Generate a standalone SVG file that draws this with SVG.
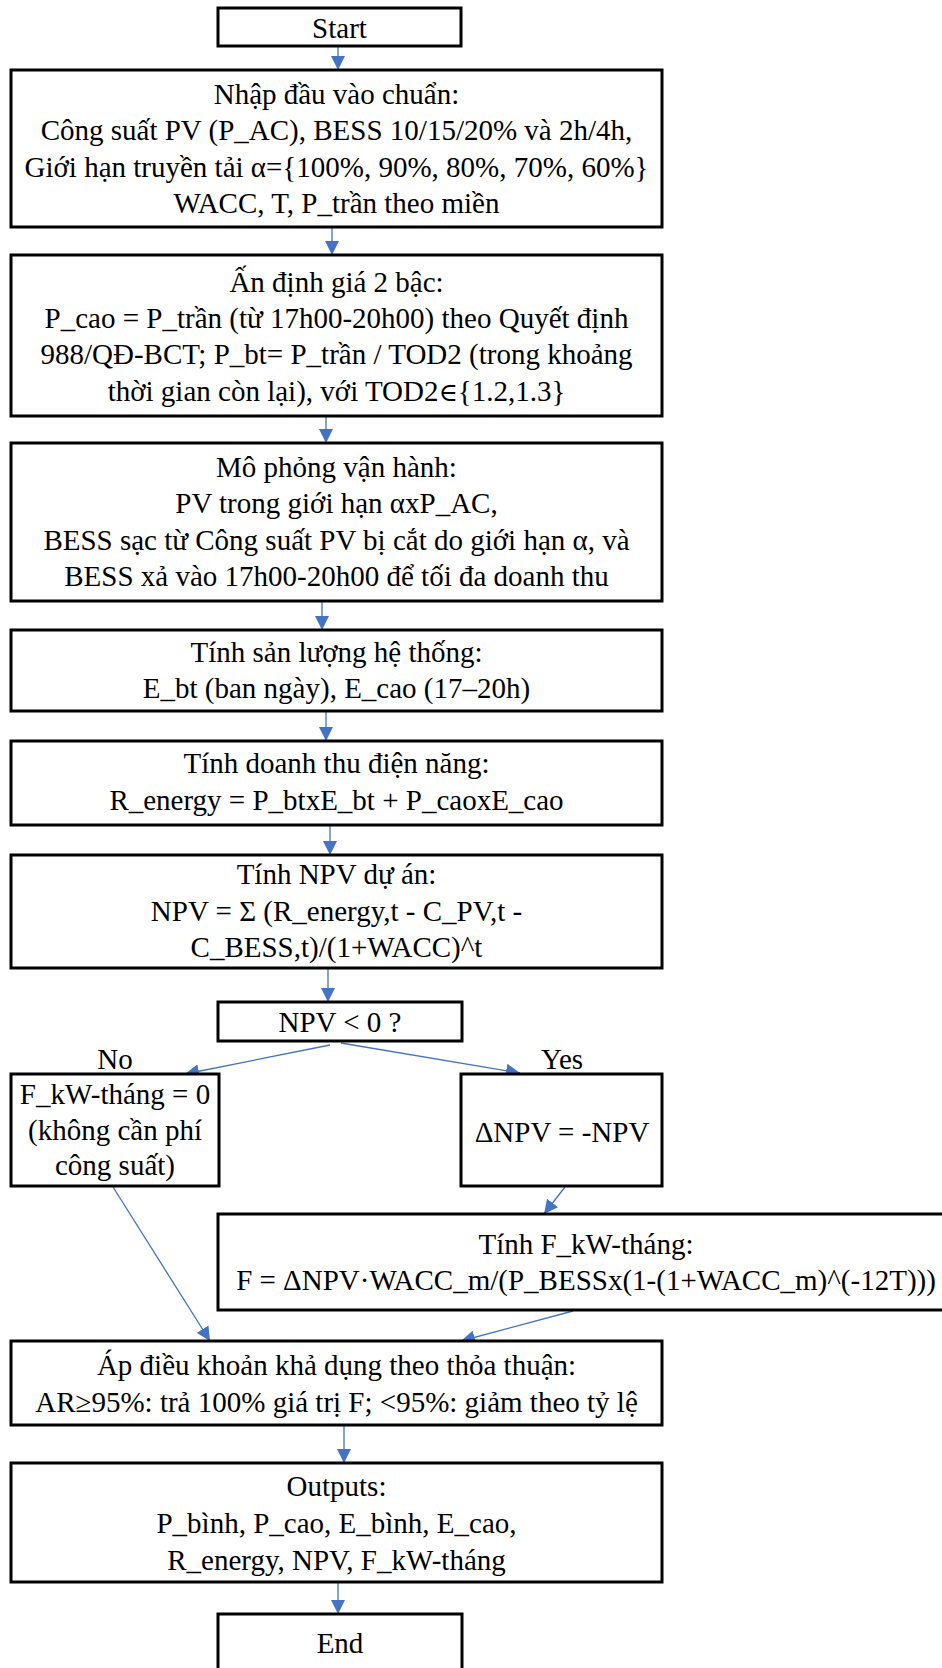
<svg xmlns="http://www.w3.org/2000/svg" width="942" height="1668" viewBox="0 0 942 1668">
  <defs>
    <marker id="arrow" markerUnits="userSpaceOnUse" markerWidth="15" markerHeight="14" refX="14" refY="7" orient="auto">
      <path d="M0,0 L14,7 L0,14 z" fill="#4472C4"/>
    </marker>
    <style>
      .box { fill: #ffffff; stroke: #000000; stroke-width: 3; }
      .t { font-family: "Liberation Serif", "Times New Roman", serif; font-size: 29px; fill: #000000; text-anchor: middle; }
      .sym { font-family: "DejaVu Serif", serif; font-size: 26px; }
      .edge { stroke: #4472C4; stroke-width: 1.3; fill: none; marker-end: url(#arrow); }
    </style>
  </defs>
  <rect width="942" height="1668" fill="#ffffff"/>

  <!-- connectors -->
  <g id="connectors">
    <line class="edge" x1="338" y1="47" x2="338" y2="70"/>
    <line class="edge" x1="332" y1="227" x2="332" y2="255"/>
    <line class="edge" x1="326" y1="416" x2="326" y2="443"/>
    <line class="edge" x1="322" y1="601" x2="322" y2="630"/>
    <line class="edge" x1="326" y1="709" x2="326" y2="741"/>
    <line class="edge" x1="330" y1="825" x2="330" y2="855"/>
    <line class="edge" x1="328" y1="968" x2="328" y2="1002"/>
    <line class="edge" x1="330" y1="1045" x2="185" y2="1074"/>
    <line class="edge" x1="341" y1="1043" x2="520" y2="1073"/>
    <line class="edge" x1="565" y1="1187" x2="544" y2="1214"/>
    <line class="edge" x1="113" y1="1187" x2="210" y2="1341"/>
    <line class="edge" x1="573" y1="1311" x2="461" y2="1341"/>
    <line class="edge" x1="344" y1="1425" x2="344" y2="1463"/>
    <line class="edge" x1="338" y1="1582" x2="338" y2="1614"/>
  </g>

  <g id="start">
    <rect class="box" x="218" y="8" width="243" height="38"/>
    <text class="t" x="339.5" y="38">Start</text>
  </g>

  <g id="input">
    <rect class="box" x="11" y="70" width="651" height="157"/>
    <text class="t" x="336.5" y="104">Nhập đầu vào chuẩn:</text>
    <text class="t" x="336.5" y="140">Công suất PV (P_AC), BESS 10/15/20% và 2h/4h,</text>
    <text class="t" x="336.5" y="177">Giới hạn truyền tải α={100%, 90%, 80%, 70%, 60%}</text>
    <text class="t" x="336.5" y="213">WACC, T, P_trần theo miền</text>
  </g>

  <g id="pricing">
    <rect class="box" x="11" y="255" width="651" height="161"/>
    <text class="t" x="336.5" y="292">Ấn định giá 2 bậc:</text>
    <text class="t" x="336.5" y="328">P_cao = P_trần (từ 17h00-20h00) theo Quyết định</text>
    <text class="t" x="336.5" y="364">988/QĐ-BCT; P_bt= P_trần / TOD2 (trong khoảng</text>
    <text class="t" x="336.5" y="401">thời gian còn lại), với TOD2<tspan class="sym">∈</tspan>{1.2,1.3}</text>
  </g>

  <g id="simulate">
    <rect class="box" x="11" y="443" width="651" height="158"/>
    <text class="t" x="336.5" y="477">Mô phỏng vận hành:</text>
    <text class="t" x="336.5" y="513">PV trong giới hạn αxP_AC,</text>
    <text class="t" x="336.5" y="550">BESS sạc từ Công suất PV bị cắt do giới hạn α, và</text>
    <text class="t" x="336.5" y="586">BESS xả vào 17h00-20h00 để tối đa doanh thu</text>
  </g>

  <g id="energy">
    <rect class="box" x="11" y="630" width="651" height="81"/>
    <text class="t" x="336.5" y="662">Tính sản lượng hệ thống:</text>
    <text class="t" x="336.5" y="698">E_bt (ban ngày), E_cao (17–20h)</text>
  </g>

  <g id="revenue">
    <rect class="box" x="11" y="741" width="651" height="84"/>
    <text class="t" x="336.5" y="773">Tính doanh thu điện năng:</text>
    <text class="t" x="336.5" y="810">R_energy = P_btxE_bt + P_caoxE_cao</text>
  </g>

  <g id="npv">
    <rect class="box" x="11" y="855" width="651" height="113"/>
    <text class="t" x="336.5" y="884">Tính NPV dự án:</text>
    <text class="t" x="336.5" y="921">NPV = Σ (R_energy,t - C_PV,t -</text>
    <text class="t" x="336.5" y="957">C_BESS,t)/(1+WACC)^t</text>
  </g>

  <g id="decision">
    <rect class="box" x="218" y="1002" width="244" height="39"/>
    <text class="t" x="340" y="1032">NPV &lt; 0 ?</text>
    <text class="t" x="115" y="1069">No</text>
    <text class="t" x="562" y="1069">Yes</text>
  </g>

  <g id="no-fee">
    <rect class="box" x="11" y="1074" width="208" height="112"/>
    <text class="t" x="115" y="1104">F_kW-tháng = 0</text>
    <text class="t" x="115" y="1140">(không cần phí</text>
    <text class="t" x="115" y="1175">công suất)</text>
  </g>

  <g id="delta-npv">
    <rect class="box" x="461" y="1074" width="201" height="112"/>
    <text class="t" x="562" y="1142">ΔNPV = -NPV</text>
  </g>

  <g id="fee-calc">
    <rect class="box" x="218" y="1214" width="740" height="96"/>
    <text class="t" x="586" y="1254">Tính F_kW-tháng:</text>
    <text class="t" x="586" y="1290">F = ΔNPV·WACC_m/(P_BESSx(1-(1+WACC_m)^(-12T)))</text>
  </g>

  <g id="availability">
    <rect class="box" x="11" y="1341" width="651" height="84"/>
    <text class="t" x="336.5" y="1375">Áp điều khoản khả dụng theo thỏa thuận:</text>
    <text class="t" x="336.5" y="1412">AR≥95%: trả 100% giá trị F; &lt;95%: giảm theo tỷ lệ</text>
  </g>

  <g id="outputs">
    <rect class="box" x="11" y="1463" width="651" height="119"/>
    <text class="t" x="336.5" y="1496">Outputs:</text>
    <text class="t" x="336.5" y="1533">P_bình, P_cao, E_bình, E_cao,</text>
    <text class="t" x="336.5" y="1570">R_energy, NPV, F_kW-tháng</text>
  </g>

  <g id="end">
    <rect class="box" x="218" y="1614" width="244" height="80"/>
    <text class="t" x="340" y="1653">End</text>
  </g>
</svg>
